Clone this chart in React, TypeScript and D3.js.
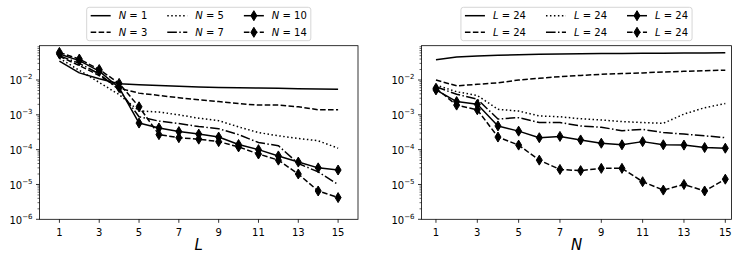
import React, { useEffect, useRef } from "react";
import * as d3 from "d3";

// x positions shared by both panels
const xValues = [1, 2, 3, 4, 5, 6, 7, 8, 9, 10, 11, 12, 13, 14, 15];
const xTicks = [1, 3, 5, 7, 9, 11, 13, 15];
const yTickExps = [-6, -5, -4, -3, -2];

// left panel: error vs L, one series per N
const leftNames = ["1", "3", "5", "7", "10", "14"];
const leftN1 = [0.035, 0.016, 0.0108, 0.0078, 0.0073, 0.0069, 0.0066, 0.0063, 0.0061, 0.006, 0.0059, 0.0058, 0.0056, 0.0055, 0.0054];
const leftN3 = [0.048, 0.026, 0.0135, 0.0058, 0.0042, 0.0036, 0.0031, 0.0027, 0.0024, 0.0021, 0.0019, 0.0019, 0.0017, 0.0014, 0.0014];
const leftN5 = [0.042, 0.019, 0.0085, 0.0038, 0.0013, 0.0012, 0.001, 0.0008, 0.00068, 0.00045, 0.00031, 0.00025, 0.00021, 0.00018, 0.00011];
const leftN7 = [0.05, 0.03, 0.015, 0.0052, 0.00088, 0.00066, 0.00056, 0.00046, 0.0004, 0.00027, 0.00016, 0.00013, 0.00004, 0.000023, 0.00001];
const leftN10 = [0.056, 0.036, 0.018, 0.006, 0.00058, 0.00042, 0.00033, 0.00028, 0.00023, 0.00014, 0.0001, 0.000066, 0.000044, 0.00003, 0.000026];
const leftN14 = [0.062, 0.04, 0.02, 0.008, 0.0017, 0.00027, 0.00022, 0.0002, 0.00017, 0.00012, 0.000075, 0.00005, 0.00002, 0.0000065, 0.0000042];

// right panel: error vs N, all labelled L = 24
const rightNames = ["24", "24", "24", "24", "24", "24"];
const right1 = [0.038, 0.046, 0.049, 0.051, 0.053, 0.055, 0.056, 0.057, 0.058, 0.058, 0.059, 0.059, 0.06, 0.06, 0.061];
const right2 = [0.01, 0.0068, 0.0075, 0.0083, 0.01, 0.0112, 0.0125, 0.0135, 0.0146, 0.0153, 0.016, 0.017, 0.0177, 0.0185, 0.0192];
const right3 = [0.0072, 0.0046, 0.0036, 0.00144, 0.00128, 0.00093, 0.00088, 0.00077, 0.00071, 0.00064, 0.0006, 0.00057, 0.00105, 0.0016, 0.0021];
const right4 = [0.0064, 0.0039, 0.0028, 0.00076, 0.00083, 0.0006, 0.0006, 0.00048, 0.00044, 0.00035, 0.00038, 0.00031, 0.00028, 0.00025, 0.00022];
const right5 = [0.0052, 0.0024, 0.002, 0.00048, 0.00034, 0.00022, 0.00024, 0.00019, 0.000153, 0.000138, 0.00017, 0.000138, 0.000135, 0.000115, 0.00011];
const right6 = [0.0058, 0.0019, 0.0014, 0.00023, 0.000135, 0.00005, 0.000027, 0.000025, 0.000029, 0.000029, 0.000012, 0.0000069, 0.00001, 0.0000065, 0.0000142];

const lineStyles = [
  { dash: null, marker: false },
  { dash: "5.55,2.4", marker: false },
  { dash: "1.5,2.475", marker: false },
  { dash: "9.6,2.4,1.5,2.4", marker: false },
  { dash: null, marker: true },
  { dash: "5.55,2.4", marker: true },
];

const FONT = "DejaVu Sans";
const diamond = "M0,-5L3,0L0,5L-3,0Z";

function drawPanel(svg: any, opts: any) {
  const { left, right, top, bottom, xDomain, series, names, symbol, xlabel } = opts;
  const x = d3.scaleLinear().domain(xDomain).range([left, right]);
  const y = d3.scaleLog().domain([1e-6, Math.pow(10, -1.015)]).range([bottom, top]);
  const g = svg.append("g");

  // minor y ticks
  const minors: number[] = [];
  for (let e = -6; e <= -2; e++) {
    for (let k = 2; k <= 9; k++) {
      const v = k * Math.pow(10, e);
      if (v < y.domain()[1]) minors.push(v);
    }
  }
  g.selectAll(".ymin").data(minors).enter().append("line")
    .attr("x1", left).attr("x2", left - 2)
    .attr("y1", (d: number) => y(d)).attr("y2", (d: number) => y(d))
    .attr("stroke", "black").attr("stroke-width", 0.6);

  yTickExps.forEach((e) => {
    const yy = y(Math.pow(10, e));
    g.append("line").attr("x1", left).attr("x2", left - 3.5)
      .attr("y1", yy).attr("y2", yy).attr("stroke", "black").attr("stroke-width", 0.8);
    const t = g.append("text").attr("x", left - 7).attr("y", yy + 4.3)
      .attr("text-anchor", "end").attr("font-family", FONT).attr("font-size", 10);
    t.append("tspan").text("10");
    t.append("tspan").attr("dy", -5).attr("font-size", 7).text("\u2212" + Math.abs(e));
  });

  xTicks.forEach((v) => {
    g.append("line").attr("x1", x(v)).attr("x2", x(v))
      .attr("y1", bottom).attr("y2", bottom + 3.5).attr("stroke", "black").attr("stroke-width", 0.8);
    g.append("text").attr("x", x(v)).attr("y", bottom + 16.7)
      .attr("text-anchor", "middle").attr("font-family", FONT).attr("font-size", 10).text(v);
  });

  g.append("text").attr("x", (left + right) / 2).attr("y", 250)
    .attr("text-anchor", "middle").attr("font-family", FONT).attr("font-style", "italic")
    .attr("font-size", 15).text(xlabel);

  const line = d3.line<number>().x((d, i) => x(xValues[i])).y((d) => y(d));
  series.forEach((vals: number[], i: number) => {
    const st = lineStyles[i];
    g.append("path").datum(vals).attr("d", line)
      .attr("fill", "none").attr("stroke", "black").attr("stroke-width", 1.5)
      .attr("stroke-linejoin", "round")
      .attr("stroke-dasharray", st.dash);
    if (st.marker) {
      g.selectAll(".m" + i).data(vals).enter().append("path")
        .attr("d", diamond)
        .attr("transform", (d: number, j: number) => `translate(${x(xValues[j])},${y(d)})`)
        .attr("fill", "black").attr("stroke", "black").attr("stroke-width", 1);
    }
  });

  g.append("rect").attr("x", left).attr("y", top)
    .attr("width", right - left).attr("height", bottom - top)
    .attr("fill", "none").attr("stroke", "black").attr("stroke-width", 0.8);

  // legend, 3 columns x 2 rows
  const lg = svg.append("g");
  const box = lg.append("rect");
  const colX: number[] = [];
  let cx = 4;
  const items: any[] = [];
  for (let c = 0; c < 3; c++) {
    colX.push(cx);
    let w = 0;
    for (let r = 0; r < 2; r++) {
      const idx = c * 2 + r;
      const t = lg.append("text").attr("x", cx + 28).attr("y", 15.7 + r * 16.6 + 3.6)
        .attr("font-family", FONT).attr("font-size", 10);
      t.append("tspan").attr("font-style", "italic").text(symbol);
      t.append("tspan").text(" = " + names[idx]);
      w = Math.max(w, (t.node() as SVGTextElement).getComputedTextLength());
      items.push({ idx, cx, r });
    }
    cx += 28 + w + 20;
  }
  const width = cx - 20 + 4;
  items.forEach(({ idx, cx, r }) => {
    const st = lineStyles[idx];
    const yy = 15.7 + r * 16.6;
    lg.append("line").attr("x1", cx).attr("x2", cx + 20).attr("y1", yy).attr("y2", yy)
      .attr("stroke", "black").attr("stroke-width", 1.5).attr("stroke-dasharray", st.dash);
    if (st.marker) {
      lg.append("path").attr("d", diamond).attr("transform", `translate(${cx + 10},${yy})`)
        .attr("fill", "black").attr("stroke", "black").attr("stroke-width", 1);
    }
  });
  box.attr("x", 0).attr("y", 7.3).attr("width", width).attr("height", 33.4)
    .attr("rx", 2.5).attr("fill", "white").attr("fill-opacity", 0.8)
    .attr("stroke", "#cccccc").attr("stroke-width", 0.8);
  lg.attr("transform", `translate(${(left + right) / 2 - width / 2},0)`);
}

export default function App() {
  const ref = useRef<SVGSVGElement>(null);

  useEffect(() => {
    const svg = d3.select(ref.current);
    svg.selectAll("*").remove();
    drawPanel(svg, {
      left: 39.5, right: 358, top: 45.7, bottom: 219.3, xDomain: [0, 16],
      series: [leftN1, leftN3, leftN5, leftN7, leftN10, leftN14],
      names: leftNames, symbol: "N", xlabel: "L",
    });
    drawPanel(svg, {
      left: 421.5, right: 731.5, top: 45.7, bottom: 219.3, xDomain: [0.3, 15.3],
      series: [right1, right2, right3, right4, right5, right6],
      names: rightNames, symbol: "L", xlabel: "N",
    });
  }, []);

  return (
    <svg ref={ref} width={747} height={263}
      style={{ position: "absolute", left: 0, top: 0, background: "white" }} />
  );
}
